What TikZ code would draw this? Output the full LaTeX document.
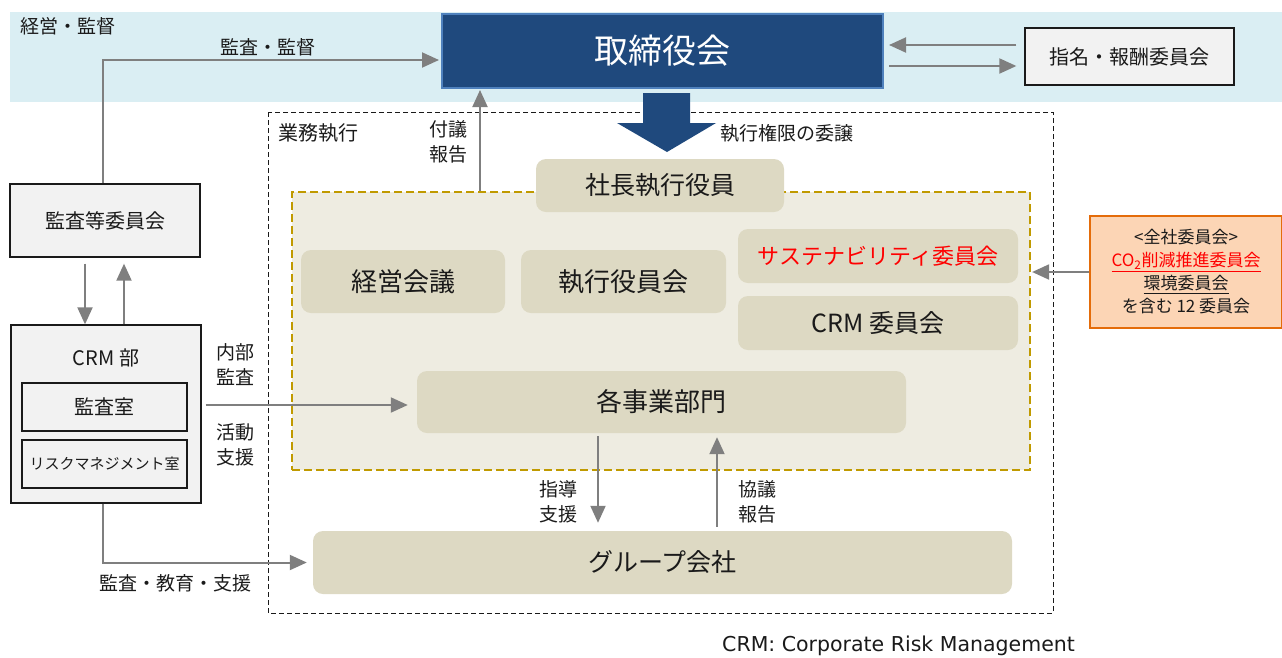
\documentclass[tikz,border=0pt]{standalone}
\usepackage{fontspec}
\setmainfont{Noto Sans CJK JP}
\newfontfamily\lat{DejaVu Sans}
\usetikzlibrary{arrows.meta,calc}
\definecolor{bandblue}{HTML}{DAEEF3}
\definecolor{darkblue}{HTML}{1F497D}
\definecolor{midblue}{HTML}{4F81BD}
\definecolor{boxgray}{HTML}{F2F2F2}
\definecolor{tan}{HTML}{DDD9C3}
\definecolor{paper}{HTML}{EEECE1}
\definecolor{gold}{HTML}{C09A00}
\definecolor{orangefill}{HTML}{FCD5B5}
\definecolor{orangeedge}{HTML}{E46C0A}
\definecolor{linegray}{HTML}{7F7F7F}
\definecolor{ink}{HTML}{1A1A1A}
\newcommand{\fs}[1]{\fontsize{#1}{#1}\selectfont}
\tikzset{
  grayarrow/.style={draw=linegray, line width=2pt, -{Triangle[length=17pt,width=15pt]}},
  plainbox/.style={draw=ink, fill=boxgray, line width=1.3pt, inner sep=0pt, text=ink},
  tanbox/.style={fill=tan, rounded corners=10pt, inner sep=0pt, text=ink},
  lbl/.style={text=ink, inner sep=0pt, font=\fontsize{19}{25}\selectfont, align=center}
}
\begin{document}
\begin{tikzpicture}[x=1pt,y=-1pt]
\useasboundingbox (0,0) rectangle (1282,657);
% band
\fill[bandblue] (10,12) rectangle (1282,102);
\node[lbl, anchor=west] (keiei) at (20,26) {経営・監督};
% board
\node[draw=midblue, fill=darkblue, line width=2pt, minimum width=441pt, minimum height=74pt, inner sep=0pt, text=white, font=\fs{34}] (tori) at (662.5,51) {取締役会};
\node[plainbox, minimum width=209pt, minimum height=57pt, font=\fs{20}] (shimei) at (1129.5,56.5) {指名・報酬委員会};
\coordinate (ya) at (0,45);
\coordinate (yb) at (0,66);
\draw[grayarrow] ($(shimei.west |- ya)+(-8,0)$) -- ($(tori.east |- ya)+(5,0)$);
\draw[grayarrow] ($(tori.east |- yb)+(5,0)$) -- ($(shimei.west |- yb)+(-8,0)$);
% execution frame
\draw[ink, line width=0.9pt, dash pattern=on 5pt off 3pt] (268,112) rectangle (1053,613);
\node[lbl, anchor=west, font=\fs{20}] (gyomu) at (278,133) {業務執行};
% gold frame
\node[draw=gold, fill=paper, dash pattern=on 8pt off 4pt, line width=2.2pt, minimum width=738pt, minimum height=278pt, inner sep=0pt] (gold) at (661,331) {};
% big arrow
\fill[darkblue] (643,93) -- (690,93) -- (690,123) -- (716,123) -- (667,152) -- (617,123) -- (643,123) -- cycle;
\node[lbl, anchor=west] (ijo) at (720,133) {執行権限の委譲};
% nodes inside
\node[tanbox, minimum width=248pt, minimum height=53pt, font=\fs{25}] (shacho) at (660,185.5) {社長執行役員};
\node[tanbox, minimum width=204pt, minimum height=63pt, font=\fs{26}] (kaigi) at (403,281.5) {経営会議};
\node[tanbox, minimum width=205pt, minimum height=63pt, font=\fs{26}] (yakuin) at (623.5,281.5) {執行役員会};
\node[tanbox, minimum width=280pt, minimum height=54pt, font=\fs{22}, text=red] (sus) at (878,256) {サステナビリティ委員会};
\node[tanbox, minimum width=280pt, minimum height=54pt, font=\fs{25}] (crmi) at (878,323) {CRM 委員会};
\node[tanbox, minimum width=489pt, minimum height=62pt, font=\fs{26}] (jigyo) at (661.5,402) {各事業部門};
\node[tanbox, minimum width=699pt, minimum height=63pt, font=\fs{25}] (group) at (662.5,562.5) {グループ会社};
% fugi arrow
\coordinate (xf) at (480,0);
\draw[grayarrow] (gold.north -| xf) -- ($(tori.south -| xf)+(0,1)$);
\node[lbl, anchor=west] (fugi) at (429,142) {付議\\報告};
% jigyo - group arrows
\coordinate (xd) at (598,0);
\coordinate (xu) at (717,0);
\draw[grayarrow] ($(jigyo.south -| xd)+(0,3)$) -- ($(group.north -| xd)+(0,-8)$);
\draw[grayarrow] ($(group.north -| xu)+(0,-4)$) -- ($(jigyo.south -| xu)+(0,4)$);
\node[lbl, anchor=east] (shido) at (578,502) {指導\\支援};
\node[lbl, anchor=west] (kyogi) at (738,502) {協議\\報告};
% orange box
\node[draw=orangeedge, fill=orangefill, line width=1.5pt, minimum width=192pt, minimum height=112pt, inner sep=0pt, text=ink, align=center, font=\fontsize{17}{23}\selectfont] (zensha) at (1186,272) {<全社委員会>\\{\color{red}\underline{CO\textsubscript{2}削減推進委員会}}\\\underline{環境委員会}\\を含む 12 委員会};
\draw[grayarrow] (zensha.west) -- ($(gold.east |- zensha.west)+(1,0)$);
% left side
\node[plainbox, minimum width=190pt, minimum height=73pt, font=\fs{20}] (kansatou) at (105,220.5) {監査等委員会};
\node[plainbox, minimum width=190pt, minimum height=178pt] (crm) at (106,414) {};
\node[text=ink, font=\fs{20}, inner sep=0pt] (crmlabel) at (106,358) {CRM 部};
\node[plainbox, minimum width=165pt, minimum height=48pt, font=\fs{20}] (kansashitsu) at (104.5,407) {監査室};
\node[plainbox, minimum width=165pt, minimum height=48pt, font=\fs{15}] (risk) at (104.5,464) {リスクマネジメント室};
\coordinate (xk) at (103,0);
\draw[grayarrow] (kansatou.north -| xk) |- ($(tori.west)+(-2,9)$);
\node[lbl] (kansakantoku) at (268,47) {監査・監督};
\coordinate (xa) at (85,0);
\coordinate (xb) at (124,0);
\draw[grayarrow] ($(kansatou.south -| xa)+(0,6)$) -- (crm.north -| xa);
\draw[grayarrow] (crm.north -| xb) -- ($(kansatou.south -| xb)+(0,6)$);
\draw[grayarrow] ($(crm.east |- kansashitsu.east)+(4,-2)$) -- ($(jigyo.west |- kansashitsu.east)+(-9,-2)$);
\node[lbl] (naibu) at (235,365) {内部\\監査};
\node[lbl] (katsudo) at (235,445) {活動\\支援};
\draw[grayarrow] (crm.south -| xk) |- ($(group.west)+(-6,0)$);
\node[lbl] (kyoiku) at (175,583) {監査・教育・支援};
% footnote
\node[text=ink, font=\lat\fontsize{20.5}{20.5}\selectfont, inner sep=0pt, anchor=west] (note) at (722,646) {CRM: Corporate Risk Management};
\end{tikzpicture}
\end{document}
